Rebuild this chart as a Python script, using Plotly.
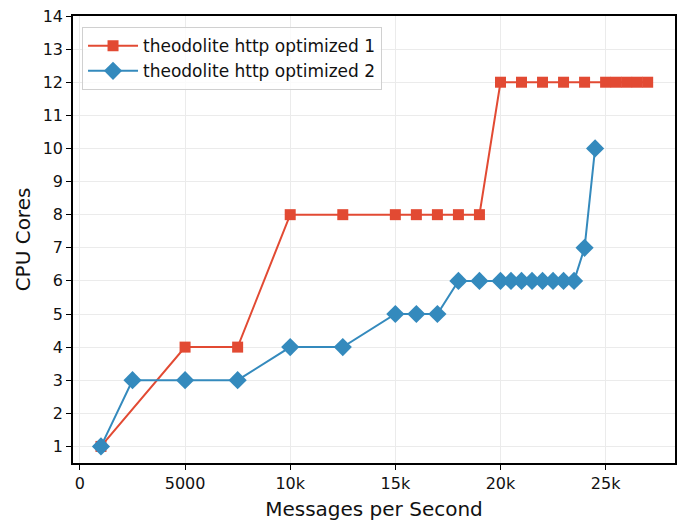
import plotly.graph_objects as go

x1 = [1000, 5000, 7500, 10000, 12500, 15000, 16000, 17000, 18000, 19000,
      20000, 21000, 22000, 23000, 24000, 25000, 25500, 26000, 26500, 27000]
y1 = [1, 4, 4, 8, 8, 8, 8, 8, 8, 8, 12, 12, 12, 12, 12, 12, 12, 12, 12, 12]

x2 = [1000, 2500, 5000, 7500, 10000, 12500, 15000, 16000, 17000, 18000, 19000,
      20000, 20500, 21000, 21500, 22000, 22500, 23000, 23500, 24000, 24500]
y2 = [1, 3, 3, 3, 4, 4, 5, 5, 5, 6, 6, 6, 6, 6, 6, 6, 6, 6, 6, 7, 10]

name1 = "theodolite http optimized 1"
name2 = "theodolite http optimized 2"

xtickvals = [0, 5000, 10000, 15000, 20000, 25000]
xticktext = ["0", "5000", "10k", "15k", "20k", "25k"]
ytickvals = list(range(1, 15))

red = "#E24A33"
blue = "#348ABD"

fig = go.Figure()
fig.add_trace(go.Scatter(x=x1, y=y1, name=name1, mode="lines+markers",
                         line=dict(color=red, width=2),
                         marker=dict(symbol="square", size=11, color=red)))
fig.add_trace(go.Scatter(x=x2, y=y2, name=name2, mode="lines+markers",
                         line=dict(color=blue, width=2),
                         marker=dict(symbol="diamond", size=14, color=blue)))

axis_common = dict(showline=True, linecolor="black", linewidth=1.6, mirror=True,
                   ticks="outside", ticklen=5, tickwidth=1.2, tickcolor="black",
                   showgrid=True, gridcolor="#ebebeb", gridwidth=1, zeroline=False,
                   tickfont=dict(size=16, color="#111"))

fig.update_layout(
    width=682, height=527,
    margin=dict(l=73, r=5, t=16, b=64),
    paper_bgcolor="white", plot_bgcolor="white",
    font=dict(family="DejaVu Sans", color="#111"),
    xaxis=dict(range=[-330, 28300], tickvals=xtickvals, ticktext=xticktext,
               title=dict(text="Messages per Second", font=dict(size=20), standoff=10),
               **axis_common),
    yaxis=dict(range=[0.5, 14], tickvals=ytickvals,
               title=dict(text="CPU Cores", font=dict(size=20), standoff=7),
               **axis_common),
    legend=dict(x=0.015, y=0.975, xanchor="left", yanchor="top",
                bgcolor="rgba(255,255,255,0.8)", bordercolor="#d0d0d0", borderwidth=1,
                itemwidth=50, font=dict(size=17, color="#111")),
    showlegend=True,
)

fig.write_html("out.html")
